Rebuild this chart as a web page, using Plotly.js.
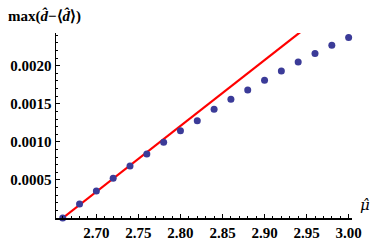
<!DOCTYPE html>
<html>
<head>
<meta charset="utf-8">
<script src="https://cdn.plot.ly/plotly-3.0.1.min.js"></script>
<style>html,body{margin:0;padding:0;background:#fff;}#chart{width:374px;height:241px;}</style>
</head>
<body>
<div id="chart"></div>
<script>
// Data
const muValues = [2.66, 2.68, 2.70, 2.72, 2.74, 2.76, 2.78, 2.80, 2.82, 2.84, 2.86, 2.88, 2.90, 2.92, 2.94, 2.96, 2.98, 3.00];
const maxDev = [0.0, 0.000184, 0.000355, 0.000522, 0.000684, 0.000842, 0.000996, 0.001145, 0.001276, 0.00143, 0.00156, 0.00168, 0.00181, 0.00193, 0.00205, 0.00216, 0.00227, 0.00237];
const fitMu = [2.66, 2.95];
const fitVal = [0.0, 0.002506];
const xTickVals = [2.70, 2.75, 2.80, 2.85, 2.90, 2.95, 3.00];
const xTickText = ["2.70", "2.75", "2.80", "2.85", "2.90", "2.95", "3.00"];
const yTickVals = [0.0005, 0.0010, 0.0015, 0.0020];
const yTickText = ["0.0005", "0.0010", "0.0015", "0.0020"];

const serif = "Liberation Serif";
const tickFont = {family: serif, size: 15, color: "#000", weight: "bold"};

const traces = [
  {x: fitMu, y: fitVal, mode: "lines", line: {color: "#ff0000", width: 2.2}, hoverinfo: "skip", cliponaxis: true},
  {x: muValues, y: maxDev, mode: "markers", marker: {color: "#3b3b98", size: 7}, cliponaxis: false}
];

const layout = {
  width: 374, height: 241,
  margin: {l: 56, r: 22, t: 33, b: 23},
  paper_bgcolor: "#fff", plot_bgcolor: "#fff",
  font: {family: serif},
  showlegend: false,
  xaxis: {
    range: [2.652, 3.004], showgrid: false, zeroline: false,
    showline: true, linecolor: "#000", linewidth: 1.5,
    ticks: "inside", ticklen: 4, tickwidth: 1, tickcolor: "#000",
    tickvals: xTickVals, ticktext: xTickText,
    tickfont: tickFont, ticklabelstandoff: 0,
    minor: {ticks: "inside", dtick: 0.01, tick0: 2.70, ticklen: 2, tickcolor: "#000", tickwidth: 1}
  },
  yaxis: {
    range: [0, 0.00243], showgrid: false, zeroline: false,
    showline: true, linecolor: "#000", linewidth: 1.5,
    ticks: "inside", ticklen: 4, tickwidth: 1, tickcolor: "#000",
    tickvals: yTickVals, ticktext: yTickText,
    tickfont: tickFont, ticklabelstandoff: 0,
    minor: {ticks: "inside", dtick: 0.0001, tick0: 0, ticklen: 2, tickcolor: "#000", tickwidth: 1}
  },
  annotations: [
    {text: "<b>max(<i>d\u0302</i>\u2212\u27e8<i>d\u0302</i>\u27e9)</b>", xref: "paper", yref: "paper", x: -0.17, y: 1.03,
     xanchor: "left", yanchor: "bottom", showarrow: false, font: {family: serif, size: 15, color: "#000"}},
    {text: "<i>\u03bc\u0302</i>", xref: "paper", yref: "paper", x: 1.02, y: 0.01,
     xanchor: "left", yanchor: "bottom", showarrow: false, font: {family: "DejaVu Serif", size: 15, color: "#000"}}
  ]
};

Plotly.newPlot("chart", traces, layout, {displayModeBar: false, staticPlot: true});
</script>
</body>
</html>
